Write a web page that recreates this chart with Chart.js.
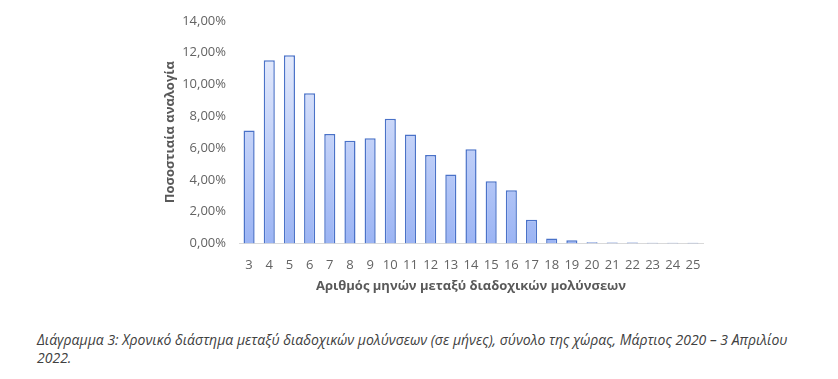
<!DOCTYPE html>
<html>
<head>
<meta charset="utf-8">
<script src="https://cdn.jsdelivr.net/npm/chart.js@4"></script>
<style>
  body { margin: 0; background: #ffffff; }
  .wrap { position: relative; width: 838px; height: 379px; }
  .chart-box { position: absolute; left: 0; top: 0; width: 838px; height: 300px; }
  .caption {
    position: absolute; left: 37px; top: 331px;
    font-family: "Open Sans", sans-serif; font-style: italic;
    font-size: 14px; line-height: 18px; color: #404040;
    white-space: nowrap;
  }
</style>
</head>
<body>
<div class="wrap">
  <div class="chart-box"><canvas id="c"></canvas></div>
  <div class="caption">Διάγραμμα 3: Χρονικό διάστημα μεταξύ διαδοχικών μολύνσεων (σε μήνες), σύνολο της χώρας, Μάρτιος 2020 – 3 Απριλίου<br>2022.</div>
</div>
<script>
//months between successive infections
const months = ["3","4","5","6","7","8","9","10","11","12","13","14","15","16","17","18","19","20","21","22","23","24","25"];
//share of cases, percent
const share = [7.1, 11.52, 11.83, 9.45, 6.88, 6.46, 6.61, 7.85, 6.86, 5.57, 4.33, 5.92, 3.92, 3.35, 1.49, 0.32, 0.2, 0.08, 0.07, 0.07, 0.05, 0.05, 0.04];
//y ticks 0..14 step 2
const yMax = 14;
const yStep = 2;

const fontFam = "'Open Sans', sans-serif";
const tickGrey = "#636363";

//gradient from light top to deeper blue bottom
function barFill(ctx) {
  const area = ctx.chart.chartArea;
  if (!area) return "#c5d3f8";
  const g = ctx.chart.ctx.createLinearGradient(0, area.top, 0, area.bottom);
  g.addColorStop(0, "#f0f3fd");
  g.addColorStop(1, "#9bb4f4");
  return g;
}

new Chart(document.getElementById("c"), {
  type: "bar",
  data: {
    labels: months,
    datasets: [{
      data: share,
      backgroundColor: barFill,
      borderColor: "#4a72c8",
      borderWidth: 1.5,
      barPercentage: 0.55,
      categoryPercentage: 1
    }]
  },
  options: {
    responsive: true,
    maintainAspectRatio: false,
    animation: false,
    layout: { padding: { left: 162, right: 135, top: 8, bottom: 0 } },
    plugins: { legend: { display: false }, tooltip: { enabled: false } },
    scales: {
      x: {
        //fixed height so baseline sits where the original has it
        afterFit: s => { s.height = 56.5; },
        grid: { display: false, drawTicks: false },
        border: { color: "#d9d9d9", width: 1 },
        ticks: {
          color: tickGrey, font: { family: fontFam, size: 13 },
          padding: 14, maxRotation: 0, autoSkip: false
        },
        title: {
          display: true,
          text: "Αριθμός μηνών μεταξύ διαδοχικών μολύνσεων",
          color: "#595959",
          font: { family: fontFam, size: 13, weight: "bold" },
          padding: { top: 4, bottom: 6 }
        }
      },
      y: {
        //fixed width keeps title, labels and plot where the original has them
        afterFit: s => { s.width = 77; },
        min: 0,
        max: yMax,
        grid: { display: false, drawTicks: false },
        border: { display: false },
        ticks: {
          stepSize: yStep,
          color: tickGrey,
          font: { family: fontFam, size: 13 },
          padding: 13,
          callback: v => v.toFixed(2).replace(".", ",") + "%"
        },
        title: {
          display: true,
          text: "Ποσοστιαία αναλογία",
          color: "#595959",
          font: { family: fontFam, size: 13, weight: "bold" },
          padding: { top: 0, bottom: 0 }
        }
      }
    }
  }
});
</script>
</body>
</html>
